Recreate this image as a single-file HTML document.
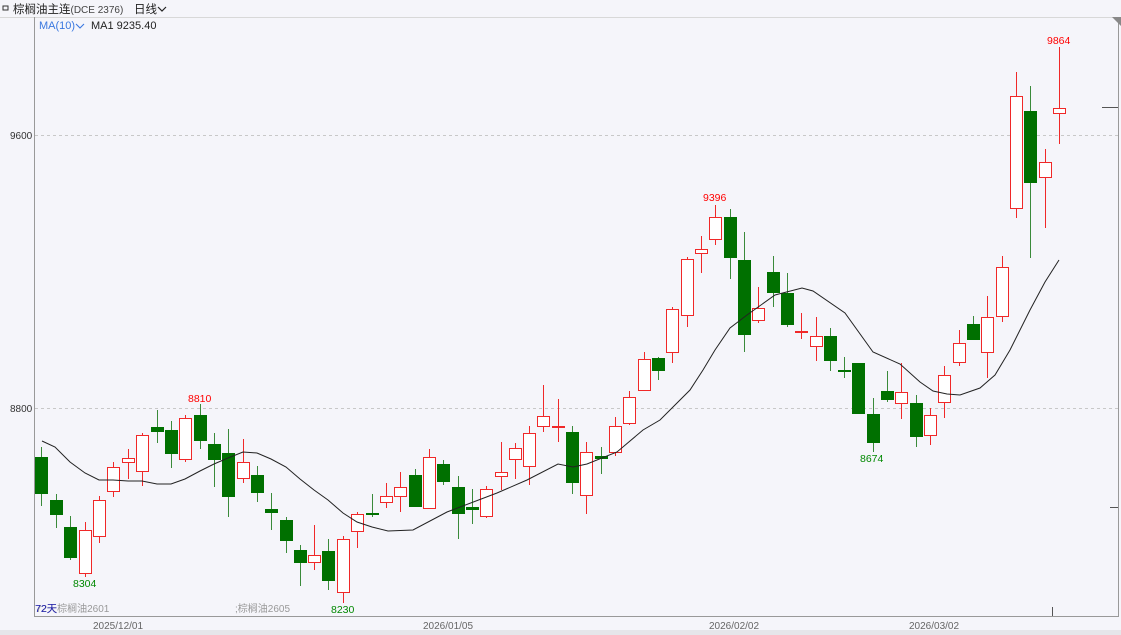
<!DOCTYPE html>
<html><head><meta charset="utf-8"><style>
html,body{margin:0;padding:0;background:#f5f5fa;}
svg{display:block;font-family:"Liberation Sans","Noto Sans CJK SC",sans-serif;}
</style></head><body>
<svg id="s" width="1121" height="635" viewBox="0 0 1121 635" xmlns="http://www.w3.org/2000/svg">
<rect x="0" y="0" width="1121" height="635" fill="#f5f5fa"/>
<rect x="0" y="630" width="1121" height="5" fill="#e6e6ea"/>
<line x1="0" y1="17.5" x2="1121" y2="17.5" stroke="#d8d8d8"/>
<rect x="3" y="6" width="5" height="4" fill="none" stroke="#333" stroke-width="1"/>
<text x="13" y="13" font-size="11.5" fill="#222">棕榈油主连<tspan font-size="10" fill="#444">(DCE 2376)</tspan></text>
<text x="134" y="13" font-size="11.5" fill="#222">日线</text>
<path d="M158 7 L162 11 L166 7" fill="none" stroke="#222" stroke-width="1.2"/>
<text x="39" y="29" font-size="11" fill="#3a78e0">MA(10)</text>
<path d="M76 24 L80 28 L84 24" fill="none" stroke="#3a78e0" stroke-width="1.1"/>
<text x="91" y="29" font-size="11" fill="#222">MA1 9235.40</text>
<line x1="34.5" y1="17" x2="34.5" y2="616" stroke="#999"/>
<line x1="34" y1="616.5" x2="1119" y2="616.5" stroke="#999"/>
<line x1="1118.5" y1="17" x2="1118.5" y2="616" stroke="#999"/>
<path d="M1112 17 L1121 17 L1121 26 Z" fill="#888"/>
<line x1="35" y1="135.5" x2="1118" y2="135.5" stroke="#c8c8c8" stroke-dasharray="3,3"/>
<line x1="35" y1="408.5" x2="1118" y2="408.5" stroke="#c8c8c8" stroke-dasharray="3,3"/>
<text x="10" y="139" font-size="10" fill="#333">9600</text>
<text x="10" y="412" font-size="10" fill="#333">8800</text>
<line x1="1102" y1="107.5" x2="1118" y2="107.5" stroke="#555"/>
<line x1="1110" y1="507.5" x2="1118" y2="507.5" stroke="#555"/>
<line x1="1052.5" y1="607" x2="1052.5" y2="616" stroke="#555"/>
<g id="c"></g>
<text x="188" y="402" font-size="10.5" fill="#f00">8810</text>
<text x="703" y="201" font-size="10.5" fill="#f00">9396</text>
<text x="1047" y="44" font-size="10.5" fill="#f00">9864</text>
<text x="73" y="587" font-size="10.5" fill="#080">8304</text>
<text x="331" y="613" font-size="10.5" fill="#080">8230</text>
<text x="860" y="462" font-size="10.5" fill="#080">8674</text>
<text x="36" y="612" font-size="10" fill="#999">72天棕榈油2601</text>
<text x="35" y="612" font-size="10.5" fill="#2020b0">72天</text>
<text x="235" y="612" font-size="10" fill="#999">;棕榈油2605</text>
<text x="93" y="629" font-size="10" fill="#666">2025/12/01</text>
<text x="423" y="629" font-size="10" fill="#666">2026/01/05</text>
<text x="709" y="629" font-size="10" fill="#666">2026/02/02</text>
<text x="909" y="629" font-size="10" fill="#666">2026/03/02</text>
</svg>
<script>
var D=[
[41,'g',457,494,447,506],[56,'g',500,515,494,528],[70,'g',527,558,516,560],[85,'r',530,574,522,577],
[99,'r',500,537,496,543],[113,'r',467,492,462,497],[128,'r',458,463,449,479],[142,'r',435,472,433,486],
[157,'g',427,432,410,443],[171,'g',430,454,421,468],[185,'r',418,460,415,462],[200,'g',415,441,404,449],
[214,'g',444,460,433,487],[228,'g',453,497,429,517],[243,'r',462,479,439,483],[257,'g',475,493,466,502],
[271,'g',509,513,493,530],[286,'g',520,541,517,553],[300,'g',550,563,545,586],[314,'r',555,563,525,570],
[328,'g',551,581,539,590],[343,'r',539,593,536,603],[357,'r',514,532,512,548],[372,'g',513,515,494,517],
[386,'r',496,503,483,508],[400,'r',487,497,472,512],[415,'g',475,507,469,507],[429,'r',457,509,449,509],
[443,'g',464,482,460,485],[458,'g',487,514,476,539],[472,'g',507,510,489,524],[486,'r',489,517,486,518],
[501,'r',472,477,442,490],[515,'r',448,460,443,479],[529,'r',433,467,426,485],[543,'r',416,427,385,432],
[558,'r',426,427,399,442],[572,'g',432,483,426,494],[586,'r',452,496,442,514],[601,'g',456,459,447,474],
[615,'r',426,453,417,456],[629,'r',397,424,391,425],[644,'r',359,391,352,391],[658,'g',358,371,357,380],
[672,'r',309,353,307,363],[687,'r',259,316,257,327],[701,'r',249,254,236,273],[715,'r',217,240,205,245],
[730,'g',217,258,209,279],[744,'g',260,335,232,352],[758,'r',308,321,287,323],[773,'g',272,293,256,307],
[787,'g',293,325,273,327],[801,'r',331,332,313,339],[816,'r',336,347,317,361],[830,'g',336,361,328,371],
[844,'g',370,372,357,378],[858,'g',363,414,363,414],[873,'g',414,443,398,452],[887,'g',391,400,371,402],
[901,'r',392,404,363,419],[916,'g',403,437,395,447],[930,'r',415,436,408,445],[944,'r',375,403,366,418],
[959,'r',343,363,330,366],[973,'g',324,340,316,340],[987,'r',317,353,296,378],[1002,'r',267,317,256,322],
[1016,'r',96,209,72,218],[1030,'g',111,183,86,258],[1045,'r',162,178,149,228],[1059,'r',108,114,47,144]];
var h='';
D.forEach(function(d){var x=d[0],up=d[1]=='r',col=up?'#f02828':'#007000';
h+='<line x1="'+(x+.5)+'" y1="'+d[4]+'" x2="'+(x+.5)+'" y2="'+d[5]+'" stroke="'+(up?col:'#3a8a3a')+'"/>';
var bh=Math.max(d[3]-d[2],2);
if(up)h+='<rect x="'+(x-5.5)+'" y="'+(d[2]+.5)+'" width="12" height="'+(bh-1)+'" fill="#fff" stroke="'+col+'"/>';
else h+='<rect x="'+(x-6)+'" y="'+d[2]+'" width="13" height="'+bh+'" fill="'+col+'"/>';});
var M=[[42,441],[55,447],[70,462],[85,473],[99,480],[113,480],[128,481],[142,481],[157,484],[171,484],[185,479],[200,471],[214,464],[228,458],[243,452],[257,453],[271,459],[286,467],[300,479],[314,490],[328,500],[343,513],[357,522],[372,527],[388,531],[413,530],[447,512],[497,493],[527,480],[558,464],[573,467],[587,464],[617,452],[643,430],[660,420],[690,390],[703,370],[715,350],[730,328],[747,315],[775,295],[802,288],[813,291],[845,313],[873,352],[900,364],[920,382],[933,391],[947,394],[960,395],[980,388],[995,375],[1010,350],[1030,310],[1045,282],[1059,260]];
h+='<polyline fill="none" stroke="#222" stroke-width="1" points="'+M.map(function(p){return p.join(',')}).join(' ')+'"/>';
document.getElementById('c').innerHTML=h;
</script>
</body></html>
